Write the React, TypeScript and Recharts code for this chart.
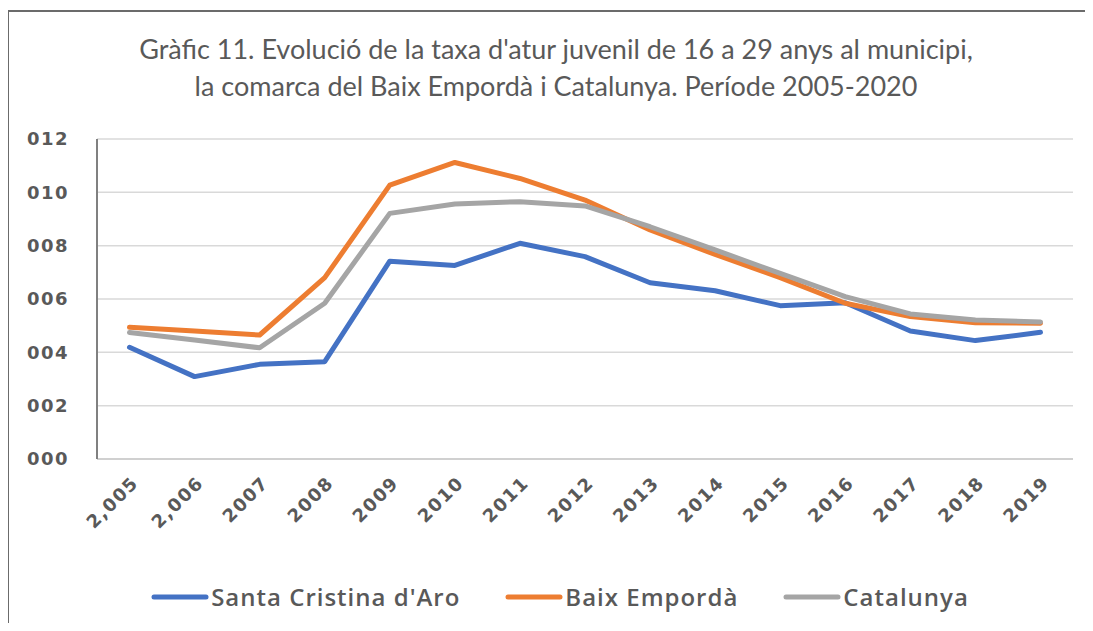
import React from 'react';
import { LineChart, Line, XAxis, YAxis, CartesianGrid, Legend } from 'recharts';

const years = ['2,005', '2,006', '2007', '2008', '2009', '2010', '2011', '2012', '2013', '2014', '2015', '2016', '2017', '2018', '2019'];
const santaCristina = [4.19, 3.09, 3.55, 3.65, 7.42, 7.26, 8.09, 7.59, 6.61, 6.31, 5.75, 5.86, 4.8, 4.44, 4.75];
const baixEmporda = [4.94, 4.8, 4.65, 6.8, 10.27, 11.12, 10.52, 9.71, 8.59, 7.67, 6.8, 5.84, 5.34, 5.11, 5.09];
const catalunya = [4.74, 4.46, 4.17, 5.84, 9.21, 9.56, 9.65, 9.49, 8.71, 7.84, 6.96, 6.09, 5.44, 5.21, 5.14];
const yTicks = [0, 2, 4, 6, 8, 10, 12];
const titleLines = [
  "Gràfic 11. Evolució de la taxa d'atur juvenil de 16 a 29 anys al municipi,",
  "la comarca del Baix Empordà i Catalunya. Període 2005-2020",
];
const seriesNames = ["Santa Cristina d'Aro", 'Baix Empordà', 'Catalunya'];
const seriesColors = ['#4472C4', '#ED7D31', '#A5A5A5'];
const seriesKeys = ['sc', 'be', 'cat'];

const data = years.map((y, i) => ({ year: y, sc: santaCristina[i], be: baixEmporda[i], cat: catalunya[i] }));

const TEXT = '#595959';
const TICK_FONT = '"DejaVu Sans", sans-serif';

const XTick = (props: any) => {
  const { x, y, payload } = props;
  const px = x + 10;
  const py = y + 17;
  return (
    <text
      x={px}
      y={py}
      transform={`rotate(-45 ${px} ${py})`}
      textAnchor="end"
      fill={TEXT}
      fontFamily={TICK_FONT}
      fontWeight="bold"
      fontSize={18}
      letterSpacing={1.5}
    >
      {payload.value}
    </text>
  );
};

const LegendContent = () => (
  <div style={{ display: 'flex', justifyContent: 'center', alignItems: 'center', gap: 45 }}>
    {seriesNames.map((n, i) => (
      <div key={n} style={{ display: 'flex', alignItems: 'center' }}>
        <svg width={58} height={10} style={{ marginRight: 2 }}>
          <line x1={3} y1={5} x2={55} y2={5} stroke={seriesColors[i]} strokeWidth={5} strokeLinecap="round" />
        </svg>
        <span style={{ fontFamily: '"Open Sans", sans-serif', fontWeight: 600, fontSize: 24, letterSpacing: 1, color: TEXT }}>{n}</span>
      </div>
    ))}
  </div>
);

export default function App() {
  return (
    <div style={{ margin: -8, width: 1093, height: 631, position: 'relative', overflow: 'hidden', background: '#fff' }}>
      <div
        style={{
          position: 'absolute',
          left: 7,
          top: 10,
          width: 2000,
          height: 2000,
          borderTop: '2px solid #6b6b6b',
          borderLeft: '2px solid #6b6b6b',
        }}
      />
      <div
        style={{
          position: 'absolute',
          left: 0,
          top: 30,
          width: 1112,
          textAlign: 'center',
          fontFamily: 'Lato, sans-serif',
          fontSize: 27,
          lineHeight: '37px',
          color: TEXT,
        }}
      >
        {titleLines.map((t) => (
          <div key={t}>{t}</div>
        ))}
      </div>
      <div style={{ position: 'absolute', left: 0, top: 0 }}>
        <LineChart width={1093} height={631} data={data} margin={{ top: 139, right: 20, bottom: 0, left: 0 }}>
          <CartesianGrid vertical={false} stroke="#d9d9d9" strokeWidth={1.5} />
          <XAxis
            dataKey="year"
            height={172}
            axisLine={{ stroke: '#d0d0d0', strokeWidth: 2 }}
            tickLine={false}
            tick={<XTick />}
            interval={0}
            padding={{ left: 32.5, right: 32.5 }}
          />
          <XAxis xAxisId="top" dataKey="year" orientation="top" height={0} tick={false} tickLine={false} axisLine={{ stroke: '#808080', strokeWidth: 2 }} />
          <YAxis
            width={97}
            domain={[0, 12]}
            ticks={yTicks}
            tickFormatter={(v: number) => String(v).padStart(3, '0')}
            axisLine={{ stroke: '#808080', strokeWidth: 2 }}
            tickLine={false}
            tickSize={0}
            tickMargin={28}
            tick={{ fill: TEXT, fontFamily: TICK_FONT, fontWeight: 'bold', fontSize: 18, letterSpacing: 1.5 }}
          />
          <YAxis yAxisId="right" orientation="right" width={0} domain={[0, 12]} tick={false} tickLine={false} axisLine={{ stroke: '#808080', strokeWidth: 2 }} />
          {seriesKeys.map((k, i) => (
            <Line
              key={k}
              dataKey={k}
              name={seriesNames[i]}
              stroke={seriesColors[i]}
              strokeWidth={5}
              dot={false}
              strokeLinecap="round"
              strokeLinejoin="round"
              isAnimationActive={false}
            />
          ))}
          <Legend layout="horizontal" verticalAlign="middle" align="center" wrapperStyle={{ top: 580, left: 0, width: 1120 }} content={<LegendContent />} />
        </LineChart>
      </div>
    </div>
  );
}
